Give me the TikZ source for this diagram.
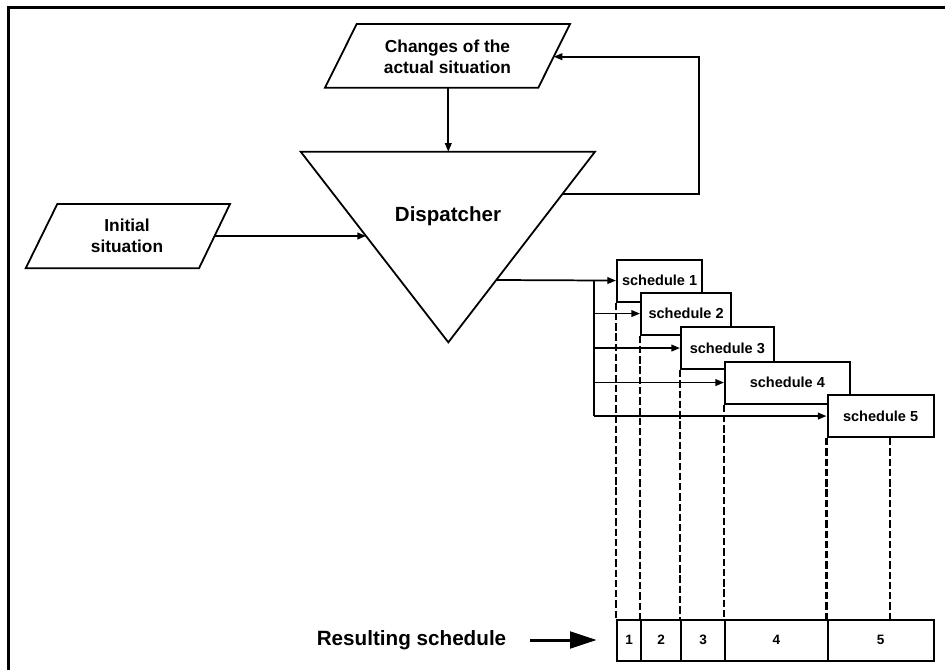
\documentclass[tikz,border=0pt]{standalone}
\usepackage{fontspec}
\setmainfont{Liberation Sans}
\usetikzlibrary{arrows.meta}
\begin{document}
\begin{tikzpicture}[x=0.75pt,y=-0.75pt,
  shp/.style={draw,line width=1.35pt,line join=miter},
  conn/.style={line width=1.3pt,-{Triangle[length=6.5pt,width=5pt]}},
  plain/.style={line width=1.3pt},
  lbl/.style={font=\bfseries\fontsize{13}{15.5}\selectfont,align=center,inner sep=0pt},
  sched/.style={draw,fill=white,line width=1.6pt,inner sep=0pt,anchor=north west,
    minimum height=31.5pt,font=\bfseries\fontsize{10.9}{13}\selectfont},
  cell/.style={draw,line width=1.6pt,inner sep=0pt,anchor=north west,
    minimum height=30.75pt,font=\bfseries\fontsize{10.2}{12}\selectfont},
  dline/.style={line width=2pt,dash pattern=on 5.5pt off 2.2pt},
]
\useasboundingbox (0,0) rectangle (945,670);
% frame
\draw[line width=2.25pt,line join=miter] (8.5,670) -- (8.5,7.5) -- (945,7.5);

% Changes of the actual situation
\draw[shp] (356.7,24) -- (570,24) -- (538.3,87.7) -- (325,87.7) -- cycle;
\node[lbl] (chg) at (447.5,56.5) {Changes of the\\actual situation};
\coordinate (chgB) at (448.3,87.7);
\coordinate (chgR) at (553.7,56.7);

% Initial situation
\draw[shp] (57.3,204) -- (230,204) -- (199,268.3) -- (25.7,268.3) -- cycle;
\node[lbl] (ini) at (127,235.5) {Initial\\situation};
\coordinate (iniR) at (214.6,236);

% Dispatcher triangle
\draw[shp] (300.7,151.7) -- (595,151.7) -- (448.3,342.3) -- cycle;
\node[font=\bfseries\fontsize{15.4}{18}\selectfont,inner sep=0pt] (disp) at (448,216.5) {Dispatcher};
\coordinate (triT) at (448.3,151.7);
\coordinate (triL) at (366,236);
\coordinate (triR) at (562.2,194.3);
\coordinate (triO) at (496.3,280);
\coordinate (fbA) at (699.3,194.3);
\coordinate (fbB) at (699.3,56.7);

\draw[conn] (chgB) -- (triT);
\draw[conn] (iniR) -- (triL);
\draw[conn,line join=miter] (triR) -- (fbA) -- (fbB) -- (chgR);

% schedules
\node[sched,minimum width=63.75pt] (S1) at (616,258.5) {schedule 1};
\node[sched,minimum width=67.5pt] (S2) at (640,291.5) {schedule 2};
\node[sched,minimum width=69.375pt] (S3) at (680,326) {schedule 3};
\node[sched,minimum width=93.375pt] (S4) at (724,360.5) {schedule 4};
\node[sched,minimum width=79.5pt] (S5) at (826.5,394) {schedule 5};

\coordinate (br) at (594.3,280);
\draw[conn] (triO) -- (S1.west);
\draw[plain] (br) -- (br |- S5.west);
\draw[conn] (br |- S2.west) -- (S2.west);
\draw[conn] (br |- S3.west) -- (S3.west);
\draw[conn] (br |- S4.west) -- (S4.west);
\draw[conn] (br |- S5.west) -- (S5.west);

% resulting schedule row
\node[cell,minimum width=18pt] (r1) at (616,618.5) {1};
\node[cell,minimum width=30pt] (r2) at (640,618.5) {2};
\node[cell,minimum width=33pt] (r3) at (680,618.5) {3};
\node[cell,minimum width=76.875pt] (r4) at (724,618.5) {4};
\node[cell,minimum width=79.5pt] (r5) at (826.5,618.5) {5};

\draw[dline] (S1.south west) -- (r1.north west);
\draw[dline] (S2.south west) -- (r2.north west);
\draw[dline] (S3.south west) -- (r3.north west);
\draw[dline] (S4.south west) -- (r4.north west);
\draw[dline] (S5.south west) -- (r5.north west);
\coordinate (e5) at (890,500);
\draw[dline] (S5.south -| e5) -- (r5.north -| e5);

% Resulting schedule label
\node[font=\bfseries\fontsize{15.5}{18}\selectfont,inner sep=0pt] (res) at (411.5,640) {Resulting schedule};
\coordinate (bigA) at (530,640);
\coordinate (bigB) at (596.7,640);
\draw[line width=2.25pt,-{Triangle[length=20pt,width=12.5pt]}] (bigA) -- (bigB);
\end{tikzpicture}
\end{document}
